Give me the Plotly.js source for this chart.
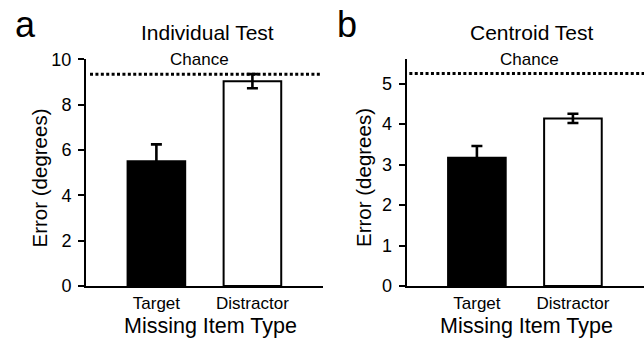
<!DOCTYPE html>
<html><head><meta charset="utf-8">
<script src="https://cdn.plot.ly/plotly-3.0.1.min.js"></script>
<style>html,body{margin:0;padding:0;background:#fff}#c{width:644px;height:343px}</style>
</head><body><div id="c"></div>
<script>
// Data
const categories = ["Target", "Distractor"];
const individualMeans = [5.5, 9.04];
const individualErr = [0.75, 0.31];
const centroidMeans = [3.17, 4.14];
const centroidErr = [0.29, 0.115];
const chanceIndividual = 9.35;
const chanceCentroid = 5.25;
const panelTitles = ["Individual Test", "Centroid Test"];
const panelLetters = ["a", "b"];
const xAxisTitle = "Missing Item Type";
const yAxisTitle = "Error (degrees)";
const chanceLabel = "Chance";

const W = 644, H = 343;
const px = x => x / W;
const py = y => 1 - y / H;
const FONT = "Liberation Sans, Arial, Helvetica, sans-serif";

function bars(xa, ya, means, errs) {
  return {
    type: "bar", x: categories, y: means, xaxis: xa, yaxis: ya, width: 0.6,
    marker: { color: ["#000000", "#ffffff"], line: { color: "#000", width: 2 } },
    error_y: { type: "data", array: errs, visible: true, color: "#000", thickness: 2.6, width: 5.5 },
    showlegend: false, hoverinfo: "skip"
  };
}

function ann(text, x, y, size, extra) {
  return Object.assign({ text: text, x: px(x), y: py(y), xref: "paper", yref: "paper", xanchor: "center", yanchor: "middle",
    showarrow: false, font: { size: size, family: FONT, color: "#000" } }, extra || {});
}

const yDom = [py(286), py(58.5)];
const axisCommon = {
  showline: true, linecolor: "#000", linewidth: 2, showgrid: false, zeroline: false,
  tickfont: { family: FONT, size: 18, color: "#000" }
};
const xCommon = Object.assign({}, axisCommon, { type: "category", ticks: "", ticklabelstandoff: 1, tickfont: { family: FONT, size: 17, color: "#000" } });
const yCommon = Object.assign({}, axisCommon, { ticks: "outside", ticklen: 6, tickwidth: 2, tickcolor: "#000", ticklabelstandoff: 3 });

const layout = {
  width: W, height: H, margin: { l: 0, r: 0, t: 0, b: 0 },
  paper_bgcolor: "#fff", plot_bgcolor: "#fff",
  font: { family: FONT, color: "#000" },
  xaxis: Object.assign({}, xCommon, { domain: [px(86), px(323)], range: [-0.733, 1.735], anchor: "y" }),
  yaxis: Object.assign({}, yCommon, { domain: yDom, range: [0, 10.04], tickvals: [0, 2, 4, 6, 8, 10], anchor: "x" }),
  xaxis2: Object.assign({}, xCommon, { domain: [px(406.5), px(644)], range: [-0.733, 1.74], anchor: "y2" }),
  yaxis2: Object.assign({}, yCommon, { domain: yDom, range: [0, 5.62], tickvals: [0, 1, 2, 3, 4, 5], anchor: "x2" }),
  shapes: [
    { type: "line", xref: "x domain", yref: "y", x0: 0.017, x1: 0.987, y0: chanceIndividual, y1: chanceIndividual, line: { color: "#000", width: 3, dash: "3px,2.4px" } },
    { type: "line", xref: "x2 domain", yref: "y2", x0: 0.012, x1: 1.0, y0: chanceCentroid, y1: chanceCentroid, line: { color: "#000", width: 3, dash: "3px,2.4px" } }
  ],
  annotations: [
    ann(panelLetters[0], 25.5, 24.5, 36),
    ann(panelLetters[1], 346.7, 24.5, 36),
    ann(panelTitles[0], 207, 32, 21),
    ann(panelTitles[1], 531.7, 32, 21),
    ann(chanceLabel, 200, 59, 17),
    ann(chanceLabel, 529, 59, 17),
    ann(yAxisTitle, 39, 178.5, 20.5, { textangle: -90 }),
    ann(yAxisTitle, 363, 178, 20.5, { textangle: -90 }),
    ann(xAxisTitle, 210, 326, 21.5),
    ann(xAxisTitle, 526.3, 326, 21.5)
  ]
};

Plotly.newPlot("c", [bars("x", "y", individualMeans, individualErr), bars("x2", "y2", centroidMeans, centroidErr)], layout, { displayModeBar: false, staticPlot: true });
</script></body></html>
